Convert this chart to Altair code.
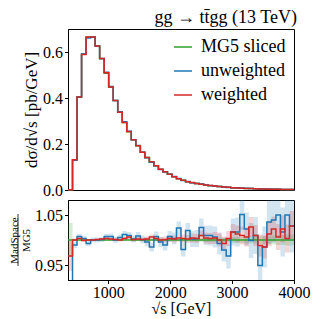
import altair as alt
import numpy as np
import pandas as pd

# ---- data ----
x_min, x_max, n_bins = 350, 4000, 50

series_names = ["MG5 sliced", "unweighted", "weighted"]
series_colors = ["#2ca02c", "#1f77b4", "#d62728"]

mg5_sliced = [0.001, 0.131, 0.403, 0.590, 0.665, 0.665, 0.626, 0.571, 0.508, 0.447,
              0.389, 0.338, 0.293, 0.253, 0.218, 0.192, 0.164, 0.141, 0.122, 0.105,
              0.090, 0.079, 0.068, 0.058, 0.049, 0.042, 0.036, 0.032, 0.028, 0.025,
              0.022, 0.019, 0.017, 0.015, 0.013, 0.0115, 0.010, 0.009, 0.008, 0.007,
              0.0062, 0.0055, 0.0048, 0.0042, 0.0037, 0.0033, 0.0029, 0.0026, 0.0023, 0.0020]

ratio_unweighted = [0.850, 0.990, 1.007, 1.003, 0.993, 1.000, 1.000, 1.001, 1.007, 1.007,
                    1.000, 1.005, 1.011, 1.009, 1.002, 1.008, 1.001, 0.996, 0.986, 1.007,
                    0.996, 0.990, 1.007, 1.003, 1.024, 0.981, 1.019, 1.002, 1.003, 1.025,
                    1.009, 1.009, 1.006, 0.993, 0.980, 0.968, 1.016, 1.016, 1.051, 1.022,
                    0.999, 1.009, 0.949, 0.986, 1.036, 1.040, 1.050, 1.016, 1.050, 1.028]

ratio_weighted = [0.968, 1.000, 1.003, 0.999, 1.000, 1.000, 1.001, 1.002, 1.003, 1.002,
                  1.001, 1.000, 1.003, 1.006, 1.001, 1.002, 1.001, 1.002, 1.006, 1.003,
                  1.000, 1.001, 1.003, 1.002, 1.004, 1.003, 1.002, 1.004, 1.003, 1.009,
                  1.004, 1.003, 1.004, 1.000, 0.993, 1.003, 1.016, 1.012, 1.009, 1.006,
                  1.026, 1.009, 0.989, 0.986, 1.012, 1.022, 1.006, 1.022, 1.003, 1.028]

ratio_mg5 = [1.0] * n_bins

err_mg5 = [0.034, 0.002, 0.001, 0.001, 0.001, 0.001, 0.001, 0.001, 0.001, 0.001,
           0.001, 0.001, 0.001, 0.001, 0.001, 0.001, 0.002, 0.002, 0.002, 0.002,
           0.002, 0.002, 0.002, 0.002, 0.003, 0.003, 0.003, 0.003, 0.003, 0.004,
           0.004, 0.004, 0.004, 0.005, 0.005, 0.005, 0.006, 0.006, 0.006, 0.007,
           0.007, 0.007, 0.008, 0.008, 0.009, 0.009, 0.010, 0.010, 0.011, 0.011]

err_unweighted = [0.030, 0.006, 0.005, 0.005, 0.005, 0.005, 0.005, 0.005, 0.005, 0.006,
                  0.006, 0.006, 0.007, 0.007, 0.007, 0.008, 0.008, 0.009, 0.009, 0.010,
                  0.010, 0.011, 0.011, 0.012, 0.013, 0.014, 0.015, 0.016, 0.017, 0.018,
                  0.019, 0.020, 0.021, 0.022, 0.023, 0.025, 0.027, 0.029, 0.031, 0.033,
                  0.035, 0.037, 0.039, 0.041, 0.043, 0.045, 0.047, 0.049, 0.051, 0.053]

err_weighted = [0.030, 0.003, 0.002, 0.002, 0.002, 0.002, 0.002, 0.002, 0.003, 0.003,
                0.003, 0.003, 0.003, 0.004, 0.004, 0.004, 0.004, 0.005, 0.005, 0.005,
                0.006, 0.006, 0.006, 0.007, 0.007, 0.008, 0.008, 0.009, 0.009, 0.010,
                0.011, 0.011, 0.012, 0.013, 0.014, 0.015, 0.016, 0.017, 0.018, 0.019,
                0.020, 0.021, 0.022, 0.023, 0.024, 0.025, 0.026, 0.027, 0.028, 0.030]

main_y_ticks = [0.0, 0.2, 0.4, 0.6]
ratio_y_ticks = [0.95, 1.00, 1.05]
x_ticks = [1000, 2000, 3000, 4000]

# ---- build tables ----
edges = np.linspace(x_min, x_max, n_bins + 1)
ratios = {"MG5 sliced": ratio_mg5, "unweighted": ratio_unweighted, "weighted": ratio_weighted}
errs = {"MG5 sliced": err_mg5, "unweighted": err_unweighted, "weighted": err_weighted}

main_rows, ratio_rows, band_rows = [], [], []
for s in series_names:
    vals = [m * r for m, r in zip(mg5_sliced, ratios[s])]
    for k in range(n_bins):
        main_rows.append({"series": s, "x": edges[k], "y": vals[k]})
        ratio_rows.append({"series": s, "x": edges[k], "y": ratios[s][k]})
        band_rows.append({"series": s, "x": edges[k], "x2": edges[k + 1],
                          "lo": ratios[s][k] - errs[s][k], "hi": ratios[s][k] + errs[s][k]})
    main_rows.append({"series": s, "x": edges[-1], "y": vals[-1]})
    ratio_rows.append({"series": s, "x": edges[-1], "y": ratios[s][-1]})

main_df = pd.DataFrame(main_rows)
ratio_df = pd.DataFrame(ratio_rows)
band_df = pd.DataFrame(band_rows)

FONT = "Times New Roman"
W = 226
xscale = alt.Scale(domain=[x_min, x_max], nice=False, zero=False)
cscale = alt.Scale(domain=series_names, range=series_colors)

main = alt.Chart(main_df).mark_line(interpolate="step-after", strokeWidth=1.5).encode(
    x=alt.X("x:Q", scale=xscale, axis=alt.Axis(labels=False, ticks=False, title=None, domain=False)),
    y=alt.Y("y:Q", scale=alt.Scale(domain=[0, 0.7], nice=False),
            axis=alt.Axis(values=main_y_ticks, format=".1f", title="dσ/d√s [pb/GeV]",
                          titlePadding=2, labelFont=FONT, titleFont=FONT)),
    color=alt.Color("series:N", scale=cscale,
                    legend=alt.Legend(title=None, orient="top-right", offset=8,
                                      symbolType="stroke", symbolSize=324,
                                      symbolStrokeWidth=1.5, labelFontSize=18,
                                      labelFont=FONT, labelOffset=8, rowPadding=5,
                                      padding=0, labelColor="black")),
).properties(
    width=W, height=161,
    title=alt.Title("gg → tt\u0304gg (13 TeV)", anchor="end", fontSize=18, font=FONT,
                    fontWeight="normal", offset=2, color="black"),
)

bands = alt.Chart(band_df).mark_rect(opacity=0.2, clip=True).encode(
    x=alt.X("x:Q", scale=xscale),
    x2="x2:Q",
    y=alt.Y("lo:Q"),
    y2="hi:Q",
    color=alt.Color("series:N", scale=cscale, legend=None),
)

rlines = alt.Chart(ratio_df).mark_line(interpolate="step-after", strokeWidth=1.5, clip=True).encode(
    x=alt.X("x:Q", scale=xscale,
            axis=alt.Axis(values=x_ticks, format="d", title="√s [GeV]", labelFlush=False,
                          titleFontSize=16, titlePadding=0, labelPadding=1,
                          labelFont=FONT, titleFont=FONT)),
    y=alt.Y("y:Q", scale=alt.Scale(domain=[0.92, 1.08], nice=False, zero=False),
            axis=alt.Axis(values=ratio_y_ticks, format=".2f", title=["MadSpace", "MG5"],
                          titleFontSize=11, titleLineHeight=12, titlePadding=3,
                          labelFont=FONT, titleFont=FONT)),
    color=alt.Color("series:N", scale=cscale, legend=None),
)

frac_bar = alt.Chart(pd.DataFrame({"a": [0]})).mark_rule(color="black", strokeWidth=0.8).encode(
    x=alt.value(-50), y=alt.value(14), y2=alt.value(66)
)

ratio = alt.layer(bands, rlines, frac_bar).properties(width=W, height=80)

chart = alt.vconcat(main, ratio, spacing=0).configure(
    padding={"left": 0, "right": 0, "top": 0, "bottom": 0},
).configure_view(
    stroke="black", strokeWidth=1,
).configure_axis(
    labelFont=FONT, titleFont=FONT, labelFontSize=16, titleFontSize=17,
    labelColor="black", titleColor="black", titleFontWeight="normal",
    domainColor="black", tickColor="black", tickSize=3.5, grid=False,
    labelPadding=2,
)

chart.save("out.html", embed_options={"renderer": "svg", "actions": False})
